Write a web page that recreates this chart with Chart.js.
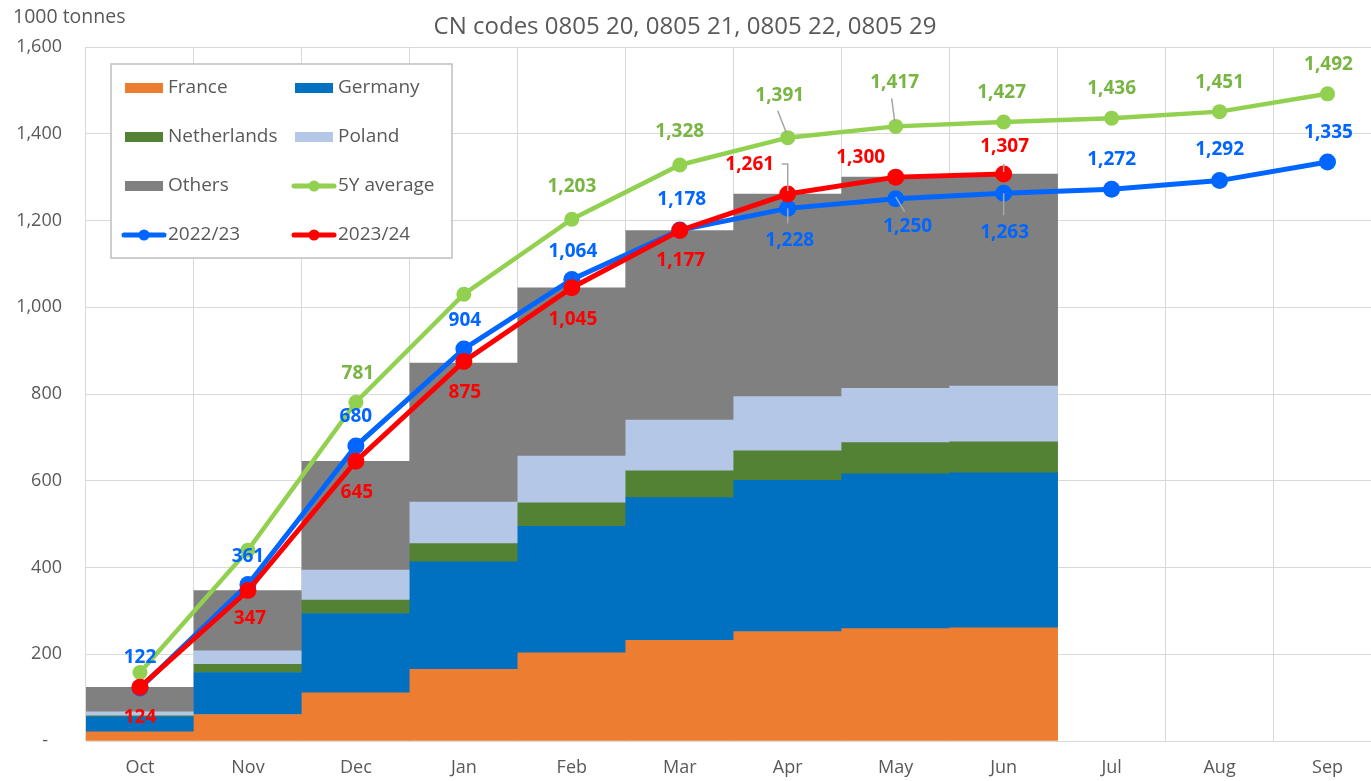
<!DOCTYPE html>
<html>
<head>
<meta charset="utf-8">
<script src="https://cdn.jsdelivr.net/npm/chart.js@4/dist/chart.umd.min.js"></script>
<style>
  html, body { margin: 0; padding: 0; background: #fff; overflow: hidden; }
  #wrap { position: relative; width: 1390px; height: 781px; }
</style>
</head>
<body>
<div id="wrap"><canvas id="chart" width="1390" height="781"></canvas></div>
<script>
const months = ['Oct', 'Nov', 'Dec', 'Jan', 'Feb', 'Mar', 'Apr', 'May', 'Jun', 'Jul', 'Aug', 'Sep'];

// stacked bars, 1000 tonnes (cumulative 2023/24 by origin)
const france      = [21, 61, 111, 165, 203, 232, 252, 259, 261, null, null, null];
const germany     = [35, 97, 183, 248, 292, 329, 349, 357, 357, null, null, null];
const netherlands = [2, 19, 31, 42, 54, 62, 68, 72, 72, null, null, null];
const poland      = [9, 31, 69, 96, 108, 117, 125, 125, 128, null, null, null];
const others      = [57, 139, 251, 320, 388, 437, 467, 487, 489, null, null, null];

// lines
const avg5y  = [158, 440, 781, 1030, 1203, 1328, 1391, 1417, 1427, 1436, 1451, 1492];
const y2223  = [122, 361, 680, 904, 1064, 1178, 1228, 1250, 1263, 1272, 1292, 1335];
const y2324  = [124, 347, 645, 875, 1045, 1177, 1261, 1300, 1307, null, null, null];

const yTicks = [0, 200, 400, 600, 800, 1000, 1200, 1400, 1600];

// label placement (pixel offsets from the point), null = no label
const avgLabelPos  = [null, null, [2, -29], null, [0, -33], [0, -33], [-8, -42], [-1, -44], [-2, -29], [0, -30], [0, -29], [1, -29]];
const blueLabelPos = [[0, -30], [0, -28], [0, -29], [1, -28], [1, -28], [2, -30], [2, 32], [12, 28], [1, 39], [0, -30], [0, -31], [1, -29]];
const redLabelPos  = [[0, 30], [2, 28], [1, 31], [1, 31], [1, 32], [1, 30], [-38, -29], [-35, -20], [1, -27], null, null, null];

// leader lines, relative to the point
const leaders = {
  avg: { 6: [[-10, -27], [-1, -4]], 7: [[-4, -28], [-1, -5]] },
  blue: { 6: [[0, 0], [0, 15]], 7: [[0, -2], [9, 13]], 8: [[0, 0], [0, 22]] },
  red: { 6: [[-6, -30], [0, -30], [0, -3]], 8: [[0, -10], [0, -2]] },
};

const FONT = "'Open Sans', 'Noto Sans', sans-serif";
const GREY_TEXT = '#595959';

const labelPlugin = {
  id: 'labelPlugin',
  afterDatasetsDraw(chart) {
    const ctx = chart.ctx;
    chart.data.datasets.forEach((ds, di) => {
      if (!ds.labelPos) return;
      const meta = chart.getDatasetMeta(di);
      ctx.save();
      // leaders first
      const lead = leaders[ds.leaderKey] || {};
      ctx.strokeStyle = '#a6a6a6';
      ctx.lineWidth = 1.5;
      Object.keys(lead).forEach(k => {
        const pt = meta.data[k];
        const pts = lead[k];
        ctx.beginPath();
        ctx.moveTo(pt.x + pts[0][0], pt.y + pts[0][1]);
        for (let j = 1; j < pts.length; j++) ctx.lineTo(pt.x + pts[j][0], pt.y + pts[j][1]);
        ctx.stroke();
      });
      ctx.fillStyle = ds.labelColor;
      ctx.font = 'bold 19px ' + FONT;
      ctx.textAlign = 'center';
      ctx.textBaseline = 'middle';
      meta.data.forEach((pt, i) => {
        const pos = ds.labelPos[i];
        const v = ds.data[i];
        if (!pos || v == null) return;
        ctx.fillText(v.toLocaleString('en-US'), pt.x + pos[0], pt.y + pos[1]);
      });
      ctx.restore();
    });
  },
};

const legendItems = [
  { text: 'France', color: '#ED7D31', kind: 'box', x: 125, y: 88 },
  { text: 'Germany', color: '#0070C0', kind: 'box', x: 295, y: 88 },
  { text: 'Netherlands', color: '#548235', kind: 'box', x: 125, y: 137 },
  { text: 'Poland', color: '#B4C7E7', kind: 'box', x: 295, y: 137 },
  { text: 'Others', color: '#808080', kind: 'box', x: 125, y: 186 },
  { text: '5Y average', color: '#92D050', kind: 'line', x: 295, y: 186 },
  { text: '2022/23', color: '#0066FF', kind: 'line', x: 125, y: 235 },
  { text: '2023/24', color: '#FF0000', kind: 'line', x: 295, y: 235 },
];

const decorPlugin = {
  id: 'decorPlugin',
  afterDraw(chart) {
    const ctx = chart.ctx;
    ctx.save();
    // texts at the top
    ctx.fillStyle = GREY_TEXT;
    ctx.textBaseline = 'middle';
    ctx.textAlign = 'left';
    ctx.font = '19.5px ' + FONT;
    ctx.fillText('1000 tonnes', 13, 17);
    ctx.textAlign = 'center';
    ctx.font = '24px ' + FONT;
    ctx.fillText('CN codes 0805 20, 0805 21, 0805 22, 0805 29', 685, 27);

    // legend box
    ctx.fillStyle = '#fff';
    ctx.fillRect(111, 64, 341, 194);
    ctx.strokeStyle = '#bfbfbf';
    ctx.lineWidth = 1.5;
    ctx.strokeRect(111, 64, 341, 194);
    ctx.font = '19px ' + FONT;
    ctx.textAlign = 'left';
    legendItems.forEach(it => {
      if (it.kind === 'box') {
        ctx.fillStyle = it.color;
        ctx.fillRect(it.x, it.y - 5, 38, 10);
      } else {
        ctx.strokeStyle = it.color;
        ctx.lineWidth = 5;
        ctx.lineCap = 'round';
        ctx.beginPath();
        ctx.moveTo(it.x - 1, it.y);
        ctx.lineTo(it.x + 39, it.y);
        ctx.stroke();
        ctx.fillStyle = it.color;
        ctx.beginPath();
        ctx.arc(it.x + 19, it.y, 5.5, 0, Math.PI * 2);
        ctx.fill();
      }
      ctx.fillStyle = GREY_TEXT;
      ctx.fillText(it.text, it.x + 43, it.y);
    });
    ctx.restore();
  },
};

const barSet = (label, data, color) => ({
  type: 'bar',
  label,
  data,
  backgroundColor: color,
  borderWidth: 0,
  barPercentage: 1,
  categoryPercentage: 1,
  stack: 'origin',
  order: 10,
});

const lineSet = (label, data, color, labelColor, radius, width, order, labelPos, leaderKey) => ({
  type: 'line',
  label,
  data,
  borderColor: color,
  backgroundColor: color,
  borderWidth: width,
  pointRadius: radius,
  pointBorderWidth: 0,
  pointBackgroundColor: color,
  tension: 0,
  stack: label,
  order,
  labelPos,
  labelColor,
  leaderKey,
});

new Chart(document.getElementById('chart').getContext('2d'), {
  data: {
    labels: months,
    datasets: [
      barSet('France', france, '#ED7D31'),
      barSet('Germany', germany, '#0070C0'),
      barSet('Netherlands', netherlands, '#548235'),
      barSet('Poland', poland, '#B4C7E7'),
      barSet('Others', others, '#808080'),
      lineSet('5Y average', avg5y, '#92D050', '#78B543', 7.5, 4.5, 2, avgLabelPos, 'avg'),
      lineSet('2022/23', y2223, '#0066FF', '#0066FF', 8.5, 5, 1, blueLabelPos, 'blue'),
      lineSet('2023/24', y2324, '#FF0000', '#FF0000', 8.5, 5, 0, redLabelPos, 'red'),
    ],
  },
  options: {
    responsive: false,
    animation: false,
    layout: { padding: { top: 47, right: 8, left: 0, bottom: 0 } },
    plugins: {
      legend: { display: false },
      tooltip: { enabled: false },
      title: { display: false },
    },
    scales: {
      x: {
        stacked: true,
        offset: true,
        grid: { color: '#d9d9d9', lineWidth: 1, offset: true, drawTicks: false },
        border: { color: '#d9d9d9' },
        ticks: { color: GREY_TEXT, font: { family: FONT, size: 18 }, padding: 16, maxRotation: 0 },
        afterFit: scale => { scale.height = 40; },
      },
      y: {
        stacked: true,
        min: 0,
        max: 1600,
        afterBuildTicks: scale => { scale.ticks = yTicks.map(v => ({ value: v })); },
        grid: { color: '#d9d9d9', lineWidth: 1, drawTicks: false },
        border: { display: false },
        ticks: {
          color: GREY_TEXT,
          font: { family: FONT, size: 18 },
          padding: 24,
          callback: v => (v === 0 ? '-   ' : v.toLocaleString('en-US')),
        },
        afterFit: scale => { scale.width = 86; },
      },
    },
  },
  plugins: [labelPlugin, decorPlugin],
});
</script>
</body>
</html>
